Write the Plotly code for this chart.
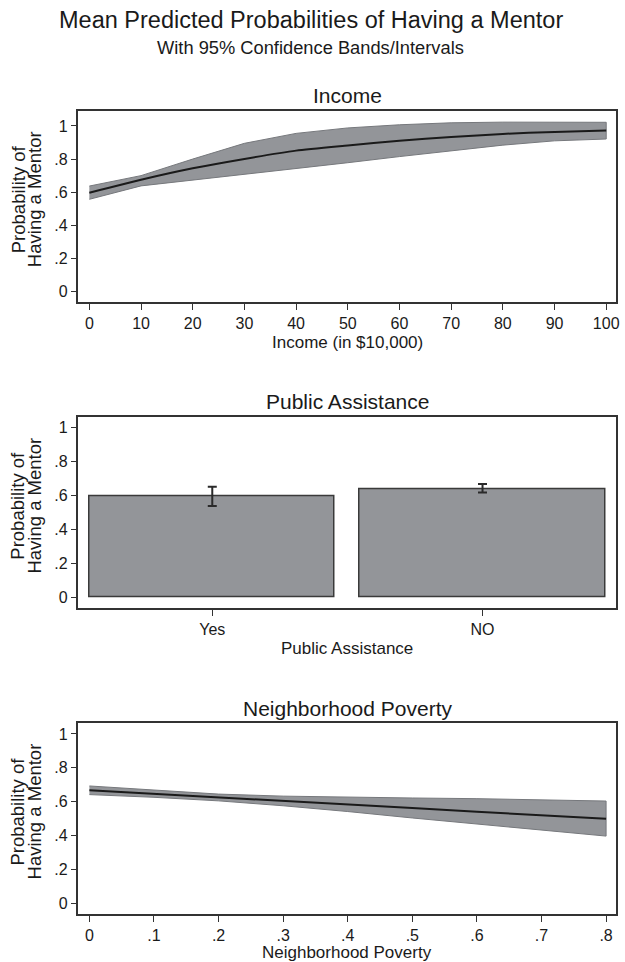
import plotly.graph_objects as go

# ---------------- data ----------------
income_x = [0, 10, 20, 30, 40, 50, 60, 70, 80, 90, 100]
income_mean = [0.597, 0.675, 0.744, 0.801, 0.851, 0.882, 0.911, 0.933, 0.952, 0.964, 0.973]
income_upper = [0.637, 0.700, 0.800, 0.895, 0.955, 0.988, 1.007, 1.019, 1.023, 1.024, 1.022]
income_lower = [0.557, 0.638, 0.675, 0.709, 0.744, 0.778, 0.815, 0.851, 0.884, 0.910, 0.921]

pa_categories = ["Yes", "NO"]
pa_mean = [0.593, 0.639]
pa_upper = [0.652, 0.668]
pa_lower = [0.538, 0.617]

pov_x = [0, 0.1, 0.2, 0.3, 0.4, 0.5, 0.6, 0.7, 0.8]
pov_mean = [0.667, 0.647, 0.627, 0.606, 0.585, 0.563, 0.541, 0.520, 0.499]
pov_upper = [0.693, 0.668, 0.645, 0.633, 0.626, 0.622, 0.618, 0.612, 0.604]
pov_lower = [0.642, 0.626, 0.605, 0.576, 0.542, 0.504, 0.468, 0.432, 0.397]

y_tickvals = [0, 0.2, 0.4, 0.6, 0.8, 1]
y_ticktext = ["0", ".2", ".4", ".6", ".8", "1"]
income_ticks = [0, 10, 20, 30, 40, 50, 60, 70, 80, 90, 100]
pov_tickvals = [0, 0.1, 0.2, 0.3, 0.4, 0.5, 0.6, 0.7, 0.8]
pov_ticktext = ["0", ".1", ".2", ".3", ".4", ".5", ".6", ".7", ".8"]

title_text = "Mean Predicted Probabilities of Having a Mentor"
subtitle_text = "With 95% Confidence Bands/Intervals"
panel_titles = ["Income", "Public Assistance", "Neighborhood Poverty"]
x_titles = ["Income (in $10,000)", "Public Assistance", "Neighborhood Poverty"]
y_title_lines = ["Probability of", "Having a Mentor"]

# ---------------- style ----------------
W, H = 625, 962
FONT = "Liberation Sans, Arial, Helvetica, sans-serif"
TXT = "#1a1a1a"
BAND = "rgb(147,149,153)"
BAND_EDGE = "rgb(118,120,124)"
FRAME = "#333333"


def py(px):
    return 1 - px / H


fig = go.Figure()

# Panel 1: income band + line
fig.add_trace(go.Scatter(
    x=income_x + income_x[::-1], y=income_upper + income_lower[::-1],
    fill="toself", fillcolor=BAND, mode="lines",
    line=dict(color=BAND_EDGE, width=1), xaxis="x", yaxis="y",
    hoverinfo="skip", showlegend=False))
fig.add_trace(go.Scatter(
    x=income_x, y=income_mean, mode="lines",
    line=dict(color="#1a1a1a", width=2, shape="spline", smoothing=0.6),
    xaxis="x", yaxis="y", showlegend=False))

# Panel 2: bars with error bars
fig.add_trace(go.Bar(
    x=[0, 1], y=pa_mean, width=0.908,
    marker=dict(color=BAND, line=dict(color="#3a3a3a", width=1.5)),
    error_y=dict(type="data", symmetric=False,
                 array=[u - m for u, m in zip(pa_upper, pa_mean)],
                 arrayminus=[m - l for m, l in zip(pa_mean, pa_lower)],
                 color="#2a2a2a", thickness=2, width=4.5),
    xaxis="x2", yaxis="y2", showlegend=False))

# Panel 3: poverty band + line
fig.add_trace(go.Scatter(
    x=pov_x + pov_x[::-1], y=pov_upper + pov_lower[::-1],
    fill="toself", fillcolor=BAND, mode="lines",
    line=dict(color=BAND_EDGE, width=1), xaxis="x3", yaxis="y3",
    hoverinfo="skip", showlegend=False))
fig.add_trace(go.Scatter(
    x=pov_x, y=pov_mean, mode="lines",
    line=dict(color="#1a1a1a", width=2),
    xaxis="x3", yaxis="y3", showlegend=False))

xdom = [79 / W, 620 / W]
frames = [(110.7, 302.0), (417.3, 608.3), (723.3, 914.0)]
yranges = [[-0.063, 1.092], [-0.065, 1.061], [-0.063, 1.063]]

common_axis = dict(showline=True, linecolor=FRAME, linewidth=1.5, mirror=True,
                   ticks="outside", ticklen=6, tickwidth=1, tickcolor=FRAME,
                   showgrid=False, zeroline=False,
                   tickfont=dict(family=FONT, size=16, color=TXT))

layout = dict(
    width=W, height=H, margin=dict(l=0, r=0, t=0, b=0),
    paper_bgcolor="white", plot_bgcolor="white",
    font=dict(family=FONT, color=TXT), showlegend=False, bargap=0,
)

for i, (top, bot) in enumerate(frames):
    sfx = "" if i == 0 else str(i + 1)
    ydom = [py(bot), py(top)]
    layout["yaxis" + sfx] = dict(common_axis, domain=ydom, range=yranges[i],
                                 tickvals=y_tickvals, ticktext=y_ticktext,
                                 anchor="x" + sfx)
layout["xaxis"] = dict(common_axis, domain=xdom, range=[-2.1, 101.9],
                       tickvals=income_ticks, anchor="y")
layout["xaxis2"] = dict(common_axis, domain=xdom, range=[-0.495, 1.494],
                        tickvals=[0, 1], ticktext=pa_categories, anchor="y2")
layout["xaxis3"] = dict(common_axis, domain=xdom, range=[-0.0169, 0.8154],
                        tickvals=pov_tickvals, ticktext=pov_ticktext, anchor="y3")

ann = []
ann.append(dict(text=title_text, x=0.5, y=py(20), xref="paper", yref="paper",
                showarrow=False, xanchor="center", yanchor="middle",
                font=dict(family=FONT, size=23.5, color=TXT)))
ann.append(dict(text=subtitle_text, x=0.5, y=py(47.5), xref="paper", yref="paper",
                showarrow=False, xanchor="center", yanchor="middle",
                font=dict(family=FONT, size=18.3, color=TXT)))
panel_title_y = [95.0, 401.7, 708.3]
x_title_y = [342.0, 648.5, 952.0]
xmid = (xdom[0] + xdom[1]) / 2
for i, (top, bot) in enumerate(frames):
    ann.append(dict(text=panel_titles[i], x=xmid, y=py(panel_title_y[i]),
                    xref="paper", yref="paper", showarrow=False,
                    xanchor="center", yanchor="middle",
                    font=dict(family=FONT, size=21, color=TXT)))
    ann.append(dict(text=x_titles[i], x=xmid, y=py(x_title_y[i]),
                    xref="paper", yref="paper", showarrow=False,
                    xanchor="center", yanchor="middle",
                    font=dict(family=FONT, size=17, color=TXT)))
    yc = (top + bot) / 2 - 7
    for j, line in enumerate(y_title_lines):
        ann.append(dict(text=line, x=[18, 35][j] / W, y=py(yc),
                        xref="paper", yref="paper", showarrow=False,
                        xanchor="center", yanchor="middle", textangle=-90,
                        font=dict(family=FONT, size=18.5, color=TXT)))
layout["annotations"] = ann

fig.update_layout(**layout)
fig.write_html(
    "out.html",
    config={"displayModeBar": False},
    post_script="document.body.style.margin='0';document.body.style.padding='0';"
                "document.body.style.overflow='hidden';"
                "document.documentElement.style.overflow='hidden';",
)
